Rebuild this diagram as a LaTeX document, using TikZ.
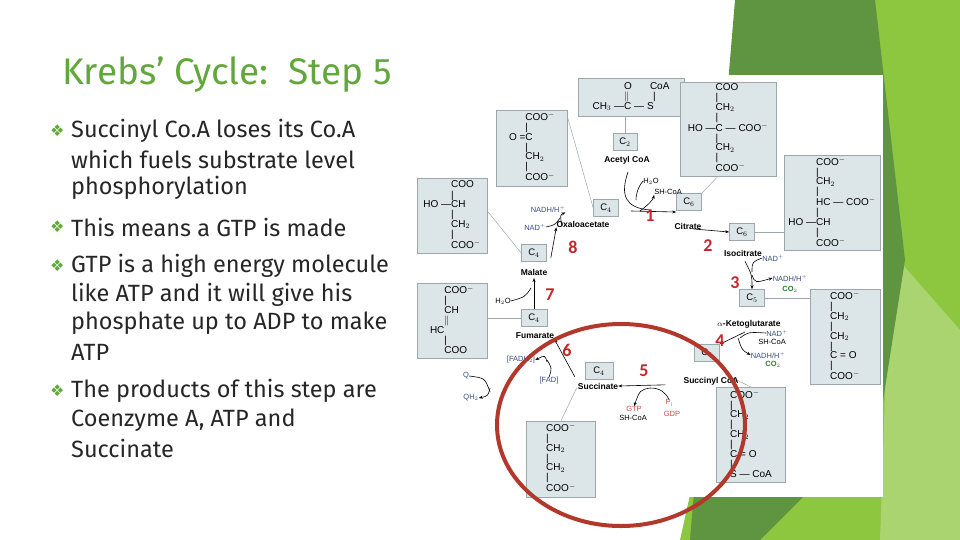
\documentclass[tikz,border=0pt]{standalone}
\usepackage{fontspec}
\setmainfont{Fira Sans}
\newfontfamily\arial{Liberation Sans}
\newfontfamily\dejavu{DejaVu Sans}
\newfontfamily\carl{Carlito}
\usetikzlibrary{arrows.meta}
\definecolor{titlegreen}{HTML}{62A73B}
\definecolor{dkgreen}{HTML}{5F9441}
\definecolor{ltgreen}{HTML}{8DC63F}
\definecolor{boxfill}{HTML}{DCE6E8}
\definecolor{boxline}{HTML}{9AA8AC}
\definecolor{stepred}{HTML}{C3262B}
\definecolor{nadblue}{HTML}{3B4E86}
\definecolor{cogreen}{HTML}{2E7D32}
\definecolor{gtpred}{HTML}{D24848}
\definecolor{ringred}{HTML}{B2382C}
\newcommand\chemtab[1]{{\def\arraystretch{0.8}\begin{tabular}{@{}r@{}l@{}}#1\end{tabular}}}
\begin{document}
\begin{tikzpicture}[x=1pt,y=-1pt,
  bodytext/.style={anchor=west,inner sep=0pt,font=\fontsize{23.5}{26}\selectfont,text=black!85},
  bul/.style={anchor=west,inner sep=0pt,font=\dejavu\fontsize{16}{17}\selectfont,text=titlegreen},
  molbox/.style={draw=boxline,fill=boxfill,line width=0.6pt,inner sep=0pt,font=\arial\fontsize{10}{11.5}\selectfont},
  cbox/.style={draw=boxline,fill=boxfill,line width=0.6pt,minimum width=25pt,minimum height=17pt,inner sep=0pt,font=\arial\fontsize{9.5}{10}\selectfont},
  lbl/.style={inner sep=0pt,font=\arial\bfseries\fontsize{8.5}{9}\selectfont},
  sm/.style={inner sep=0pt,font=\arial\fontsize{7.5}{8}\selectfont},
  stepn/.style={inner sep=0pt,text=stepred,font=\carl\bfseries\fontsize{18}{19}\selectfont},
  link/.style={draw=boxline,line width=0.5pt},
  arr/.style={-{Stealth[length=4pt,width=3pt]},line width=0.6pt},
]
\useasboundingbox (0,0) rectangle (960,540);
% background shapes
\fill[ltgreen] (800,0) -- (960,0) -- (960,540) -- (680,540) -- cycle;
\fill[ltgreen!75!white] (890,250) -- (960,330) -- (960,540) -- (880,540) -- cycle;
\fill[dkgreen] (735,0) -- (875,0) -- (905,260) -- (880,420) -- (760,540) -- (690,540) -- cycle;
\fill[white] (417,75) rectangle (883,497);
% title
\node[anchor=west,inner sep=0pt,text=titlegreen,font=\fontsize{37}{39}\selectfont] (title) at (62,75) {Krebs’ Cycle:\ \ Step 5};
% bullets
\foreach \y in {131,227,266,391} \node[bul] at (50,\y) {❖};
\node[bodytext] (t1) at (71,131) {Succinyl Co.A loses its Co.A};
\node[bodytext] (t2) at (71,159) {which fuels substrate level};
\node[bodytext] (t3) at (71,188) {phosphorylation};
\node[bodytext] (t4) at (71,227) {This means a GTP is made};
\node[bodytext] (t5) at (71,266) {GTP is a high energy molecule};
\node[bodytext] (t6) at (71,295) {like ATP and it will give his};
\node[bodytext] (t7) at (71,323) {phosphate up to ADP to make};
\node[bodytext] (t8) at (71,352) {ATP};
\node[bodytext] (t9) at (71,391) {The products of this step are};
\node[bodytext] (t10) at (71,420) {Coenzyme A, ATP and};
\node[bodytext] (t11) at (71,448) {Succinate};
% molecule boxes
\node[molbox,minimum width=106pt,minimum height=38pt] (acbox) at (631,97) {\chemtab{&O\hspace{18pt}CoA\\ &$\|$\hspace{24pt}|\hspace{5pt}\\ CH$_3$ — &C — S\hspace{4pt}}};
\node[molbox,minimum width=71pt,minimum height=76pt] (oxbox) at (532,148) {\chemtab{&COO$^-$\\ &|\\ O = &C\\ &|\\ &CH$_2$\\ &|\\ &COO$^-$}};
\node[molbox,minimum width=70pt,minimum height=75pt] (malbox) at (452,216) {\chemtab{&COO\\ &|\\ HO — &CH\\ &|\\ &CH$_2$\\ &|\\ &COO$^-$}};
\node[molbox,minimum width=96pt,minimum height=94pt] (citbox) at (728,129) {\chemtab{&COO\\ &|\\ &CH$_2$\\ &|\\ HO — &C — COO$^-$\\ &|\\ &CH$_2$\\ &|\\ &COO$^-$}};
\node[molbox,minimum width=96pt,minimum height=95pt] (isobox) at (832,203) {\chemtab{&COO$^-$\\ &|\\ &CH$_2$\\ &|\\ &HC — COO$^-$\\ &|\\ HO — &CH\\ &|\\ &COO$^-$}};
\node[molbox,minimum width=70pt,minimum height=95pt] (akbox) at (845,337) {\chemtab{&COO$^-$\\ &|\\ &CH$_2$\\ &|\\ &CH$_2$\\ &|\\ &C = O\\ &|\\ &COO$^-$}};
\node[molbox,minimum width=69pt,minimum height=95pt] (scbox) at (751,435) {\chemtab{&COO$^-$\\ &|\\ &CH$_2$\\ &|\\ &CH$_2$\\ &|\\ &C = O\\ &|\\ &S — CoA}};
\node[molbox,minimum width=69pt,minimum height=76pt] (sucbox) at (561,459) {\chemtab{&COO$^-$\\ &|\\ &CH$_2$\\ &|\\ &CH$_2$\\ &|\\ &COO$^-$}};
\node[molbox,minimum width=70pt,minimum height=75pt] (fumbox) at (452,321) {\chemtab{&COO$^-$\\ &|\\ &CH\\ &$\|$\\ HC&\\ &|\\ &COO}};
% carbon boxes
\node[cbox,minimum width=24pt] (c2) at (625,142) {C$_2$};
\node[cbox] (c4ox) at (606,208) {C$_4$};
\node[cbox] (c4mal) at (534,253) {C$_4$};
\node[cbox] (c6cit) at (689,202) {C$_6$};
\node[cbox] (c6iso) at (742,232) {C$_6$};
\node[cbox] (c5) at (752,298) {C$_5$};
\node[cbox] (c4sc) at (707,353) {C$_4$};
\node[cbox,minimum width=28pt] (c4suc) at (599,371) {C$_4$};
\node[cbox,minimum width=26pt] (c4fum) at (534,318) {C$_4$};
% links
\draw[link] (acbox.south -| c2) -- (c2.north);
\draw[link] (oxbox.east) ++(0,-30) -- (c4ox.west);
\draw[link] (malbox.east) ++(0,-5) -- (c4mal.west);
\draw[link] (citbox.south) ++(-10,0) -- (c6cit.north east);
\draw[link] (c6iso.east) -- (isobox.west |- c6iso);
\draw[link] (c5.east) -- (akbox.west |- c5);
\draw[link] (c4sc.south east) ++(5,12) -- (scbox.north);
\draw[link] (c4suc.south west) ++(-8,8) -- (sucbox.north);
\draw[link] (fumbox.east |- c4fum) -- (c4fum.west);
% labels
\node[lbl] (lac) at (627,160) {Acetyl CoA};
\node[lbl] (lox) at (583,224) {Oxaloacetate};
\node[lbl] (lmal) at (534,272) {Malate};
\node[lbl] (lcit) at (688,226) {Citrate};
\node[lbl] (liso) at (743,253) {Isocitrate};
\node[lbl] (lak) at (749,324) {$\alpha$-Ketoglutarate};
\node[lbl] (lsc) at (711,381) {Succinyl CoA};
\node[lbl] (lsuc) at (598,386) {Succinate};
\node[lbl] (lfum) at (535,336) {Fumarate};
% side species
\node[sm] (h2o1) at (651,181) {H$_2$O};
\node[sm] (shcoa1) at (668,192) {SH-CoA};
\node[sm,text=nadblue] (nadh8) at (548,209) {NADH/H$^+$};
\node[sm,text=nadblue] (nad8) at (535,227) {NAD$^+$};
\node[sm,text=nadblue] (nad3) at (773,258) {NAD$^+$};
\node[sm,text=nadblue] (nadh3) at (790,278) {NADH/H$^+$};
\node[sm,text=cogreen,font=\arial\bfseries\fontsize{7.5}{8}\selectfont] (co23) at (790,289) {CO$_2$};
\node[sm,text=nadblue] (nad4) at (777,333) {NAD$^+$};
\node[sm] (shcoa4) at (772,342) {SH-CoA};
\node[sm,text=nadblue] (nadh4) at (768,355) {NADH/H$^+$};
\node[sm,text=cogreen,font=\arial\bfseries\fontsize{7.5}{8}\selectfont] (co24) at (773,364) {CO$_2$};
\node[sm,text=gtpred] (pi) at (669,403) {P$_\mathrm{i}$};
\node[sm,text=gtpred] (gdp) at (672,414) {GDP};
\node[sm,text=gtpred] (gtp) at (634,409) {GTP};
\node[sm] (shcoa5) at (633,418) {SH-CoA};
\node[sm,text=nadblue] (fadh) at (521,360) {[FADH$_2$]};
\node[sm,text=nadblue] (fad) at (549,381) {[FAD]};
\node[sm,text=nadblue] (q) at (466,376) {Q};
\node[sm,text=nadblue] (qh2) at (471,398) {QH$_2$};
\node[sm] (h2o7) at (503,301) {H$_2$O};
% arrows
\draw[arr] (c4ox.east) ++(12,3) -- (c6cit.west |- 0,212);
\draw[line width=0.6pt] (628,172) .. controls (620,195) and (625,208) .. (650,210);
\draw[arr] (640,211) .. controls (648,205) and (653,200) .. (shcoa1.south west);
\draw[line width=0.6pt] (h2o1.west) .. controls (640,184) and (636,192) .. (636,200);
\draw[arr] (lcit.east) ++(-8,3) -- (c6iso.west);
\draw[arr] (liso.south) ++(2,5) .. controls (752,275) .. (c5.north);
\draw[line width=0.6pt] (nad3.west) .. controls (752,262) .. (752,272);
\draw[arr] (752,275) .. controls (755,283) .. (nadh3.west);
\draw[arr] (745,332) -- (c4sc.north east);
\draw[line width=0.6pt] (nad4.west) .. controls (748,332) .. (740,338);
\draw[arr] (738,338) .. controls (742,350) .. (nadh4.west);
\draw[arr] (lsc.north west) ++(-18,8) -- (lsuc.east);
\draw[line width=0.6pt] (pi.north) .. controls (665,392) and (660,388) .. (650,388);
\draw[arr] (650,388) .. controls (640,390) .. (gtp.north);
\draw[arr] (lsuc.north west) ++(-3,-6) -- (lfum.south east);
\draw[line width=0.6pt] (fad.north) .. controls (552,368) .. (547,360);
\draw[arr] (547,362) .. controls (545,355) .. (fadh.east);
\draw[line width=0.6pt] (q.east) .. controls (485,378) .. (490,392);
\draw[arr] (490,388) .. controls (488,396) .. (qh2.east);
\draw[arr] (c4fum.north) -- (c4mal.south |- 0,278);
\draw[line width=0.6pt] (h2o7.east) .. controls (525,297) .. (531,288);
\draw[arr] (c4mal.east) ++(4,5) -- (lox.south west);
\draw[line width=0.6pt] (nad8.east) .. controls (555,225) .. (560,218);
\draw[arr] (562,226) .. controls (560,215) .. (nadh8.south east);
% step numbers
\node[stepn] (s1) at (650,216) {1};
\node[stepn] (s2) at (708,246) {2};
\node[stepn] (s3) at (735,283) {3};
\node[stepn] (s4) at (720,341) {4};
\node[stepn] (s5) at (644,371) {5};
\node[stepn] (s6) at (567,350) {6};
\node[stepn] (s7) at (550,295) {7};
\node[stepn] (s8) at (573,247) {8};
% highlight ring
\draw[ringred,line width=4pt] (621,425) ellipse [x radius=124, y radius=101];
\end{tikzpicture}
\end{document}
